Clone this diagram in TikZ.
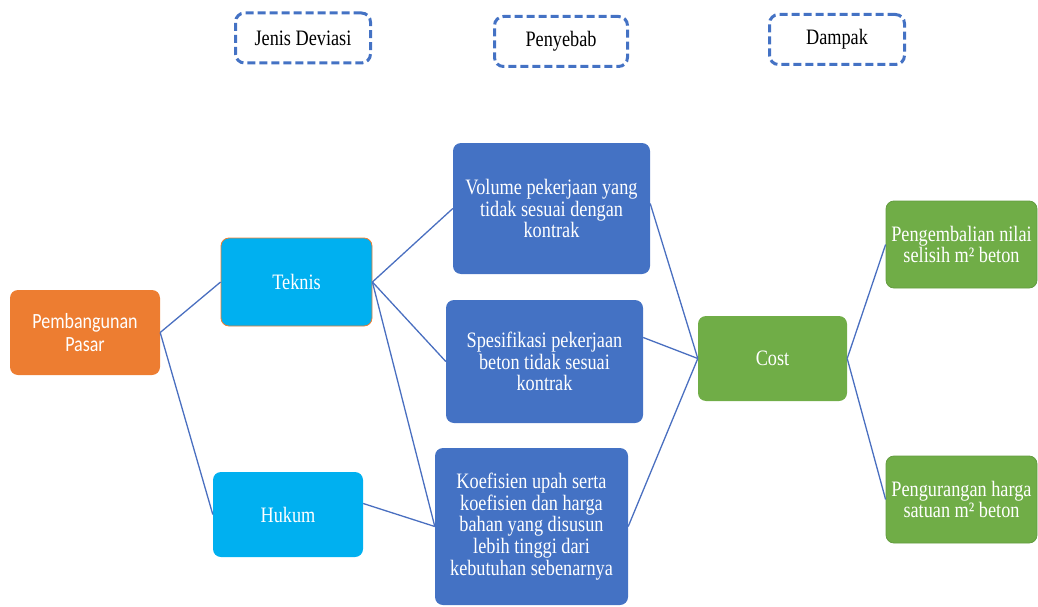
\documentclass[tikz,border=0pt]{standalone}
\usepackage{fontspec}
\setmainfont{Liberation Serif}[FakeStretch=0.83]
\newfontfamily\calibri{Carlito}[FakeStretch=0.83]
\definecolor{cOrange}{HTML}{ED7D31}
\definecolor{cCyan}{HTML}{00B0F0}
\definecolor{cBlue}{HTML}{4472C4}
\definecolor{cGreen}{HTML}{70AD47}
\definecolor{cGreenD}{HTML}{639C3F}
\definecolor{cLine}{HTML}{4A6FC0}
\begin{document}
\begin{tikzpicture}[x=1pt,y=-1pt,
  base/.style={rounded corners=8pt, inner sep=0pt, align=center, text=white,
    font=\fontsize{22}{21.7}\selectfont},
  hdr/.style={draw=cBlue, line width=3pt, dash pattern=on 8pt off 4pt,
    rounded corners=9pt, text=black, align=center, inner sep=0pt,
    font=\fontsize{22}{21.7}\selectfont},
  link/.style={draw=cLine, line width=1.3pt}]
\useasboundingbox (0,0) rectangle (1038,607);

% headers
\node[hdr, minimum width=135pt, minimum height=50pt] (h1) at (303,38) {Jenis Deviasi};
\node[hdr, minimum width=133pt, minimum height=50pt] (h2) at (561,41.5) {Penyebab};
\node[hdr, minimum width=135pt, minimum height=50pt] (h3) at (837,39.5) {Dampak};

% boxes
\node[base, fill=cOrange, minimum width=150pt, minimum height=85pt,
  font=\calibri\fontsize{21.7}{22.7}\selectfont] (pp) at (85,332.5) {Pembangunan\\Pasar};
\node[base, fill=cCyan, draw=cOrange, line width=0.8pt, minimum width=151pt, minimum height=88pt] (tek) at (296.5,282) {Teknis};
\node[base, fill=cCyan, minimum width=150pt, minimum height=85pt] (huk) at (288,514.5) {Hukum};
\node[base, fill=cBlue, minimum width=197pt, minimum height=131pt] (vol) at (551.5,208.5)
  {Volume pekerjaan yang\\tidak sesuai dengan\\kontrak};
\node[base, fill=cBlue, minimum width=197pt, minimum height=123pt] (spe) at (544.5,361.5)
  {Spesifikasi pekerjaan\\beton tidak sesuai\\kontrak};
\node[base, fill=cBlue, minimum width=193pt, minimum height=157pt] (koe) at (531.5,526.5)
  {Koefisien upah serta\\koefisien dan harga\\bahan yang disusun\\lebih tinggi dari\\kebutuhan sebenarnya};
\node[base, fill=cGreen, minimum width=149pt, minimum height=85pt] (cost) at (772.5,358.5) {Cost};
\node[base, fill=cGreen, draw=cGreenD, line width=0.8pt, minimum width=151pt, minimum height=87pt] (pem) at (961.5,244.5)
  {Pengembalian nilai\\selisih m² beton};
\node[base, fill=cGreen, draw=cGreenD, line width=0.8pt, minimum width=151pt, minimum height=87pt] (pen) at (961.5,499.5)
  {Pengurangan harga\\satuan m² beton};

% connectors
\draw[link] (pp.east) -- (tek.west);
\draw[link] (pp.east) -- (huk.west);
\draw[link] (tek.east) -- (vol.west);
\draw[link] (tek.east) -- (spe.west);
\draw[link] (tek.east) -- (koe.west);
\draw[link] ([yshift=11pt]huk.east) -- (koe.west);
\draw[link] ([yshift=5pt]vol.east) -- (cost.west);
\draw[link] ([yshift=24pt]spe.east) -- (cost.west);
\draw[link] (koe.east) -- (cost.west);
\draw[link] (cost.east) -- (pem.west);
\draw[link] (cost.east) -- (pen.west);
\end{tikzpicture}
\end{document}
